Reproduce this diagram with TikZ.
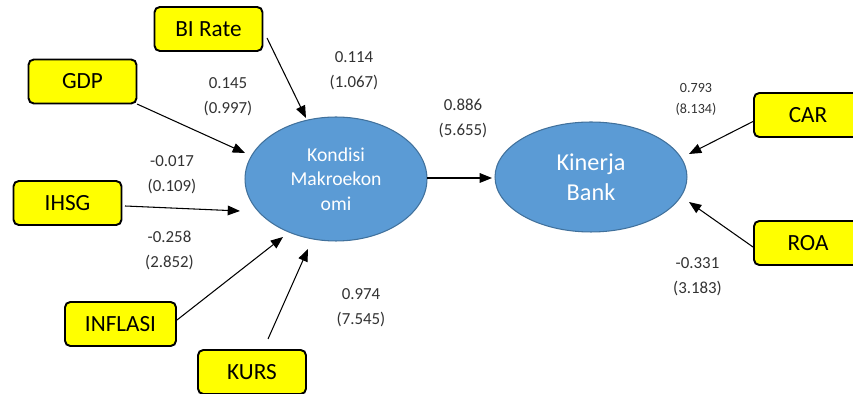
\documentclass[tikz,border=0pt]{standalone}
\usepackage{fontspec}
\setmainfont{Carlito}
\usepackage{tikz}
\usetikzlibrary{positioning,arrows.meta,calc,shapes.geometric}
\definecolor{kuning}{RGB}{255,255,0}
\definecolor{biru}{RGB}{91,155,213}
\definecolor{birugaris}{RGB}{65,113,156}
\definecolor{angka}{RGB}{50,50,50}

\begin{document}
\begin{tikzpicture}[x=0.02cm, y=-0.02cm,
    indikator/.style={draw, line width=1.1pt, rounded corners=3pt, fill=kuning, minimum width=2.16cm, minimum height=0.88cm, inner sep=0pt, font=\fontsize{13.2}{15}\selectfont},
    laten/.style={draw=birugaris, line width=0.6pt, fill=biru, ellipse, inner sep=0pt, text=white, align=center},
    koef/.style={align=center, text=angka, font=\fontsize{9.6}{14}\selectfont},
    panah/.style={-{Triangle[length=7pt, width=5.5pt]}, line width=0.6pt}]

    \useasboundingbox (0,0) rectangle (853,394);

    % 
    \node[laten, minimum width=3.64cm, minimum height=2.48cm, font=\fontsize{11.2}{14}\selectfont] (kondisi) at (336,179) {Kondisi\\Makroekon\\omi};
    \node[laten, minimum width=3.84cm, minimum height=2.2cm, font=\fontsize{13.8}{17}\selectfont] (kinerja) at (591,177) {Kinerja\\Bank};

    % 
    \node[indikator] (birate) at (208.5,29) {BI Rate};
    \node[indikator] (gdp) at (82.5,81.5) {GDP};
    \node[indikator] (ihsg) at (67.5,203) {IHSG};
    \node[indikator, minimum width=2.22cm] (inflasi) at (120.5,324) {INFLASI};
    \node[indikator] (kurs) at (252,372) {KURS};
    \node[indikator] (car) at (808,115) {CAR};
    \node[indikator] (roa) at (808,243) {ROA};

    % 
    \draw[panah] ($(birate)+(58.5,9)$) -- ($(kondisi)+(-30,-61)$);
    \draw[panah] ($(gdp)+(54.5,22.5)$) -- ($(kondisi)+(-91,-26)$);
    \draw[panah] ($(ihsg)+(57.5,3)$) -- ($(kondisi)+(-96,32)$);
    \draw[panah] ($(inflasi)+(56.5,-4)$) -- ($(kondisi)+(-53,58)$);
    \draw[panah] ($(kurs)+(16,-33)$) -- ($(kondisi)+(-28,70)$);
    \draw[panah] ($(kondisi)+(91,-1)$) -- ($(kinerja)+(-99,1)$);
    \draw[panah] ($(car)+(-54,6)$) -- ($(kinerja)+(98,-23)$);
    \draw[panah] ($(roa)+(-55,4)$) -- ($(kinerja)+(98,25)$);

    % 
    \node[koef] (k1) at (354,70.5) {0.114\\(1.067)};
    \node[koef] (k2) at (228,97) {0.145\\(0.997)};
    \node[koef] (k3) at (172,174.5) {-0.017\\(0.109)};
    \node[koef] (k4) at (169.5,250.5) {-0.258\\(2.852)};
    \node[koef] (k5) at (361,307.5) {0.974\\(7.545)};
    \node[koef] (k6) at (463,118.5) {0.886\\(5.655)};
    \node[koef, font=\fontsize{8}{12}\selectfont] (k7) at (696,99.5) {0.793\\(8.134)};
    \node[koef] (k8) at (697.5,277) {-0.331\\(3.183)};

\end{tikzpicture}
\end{document}
